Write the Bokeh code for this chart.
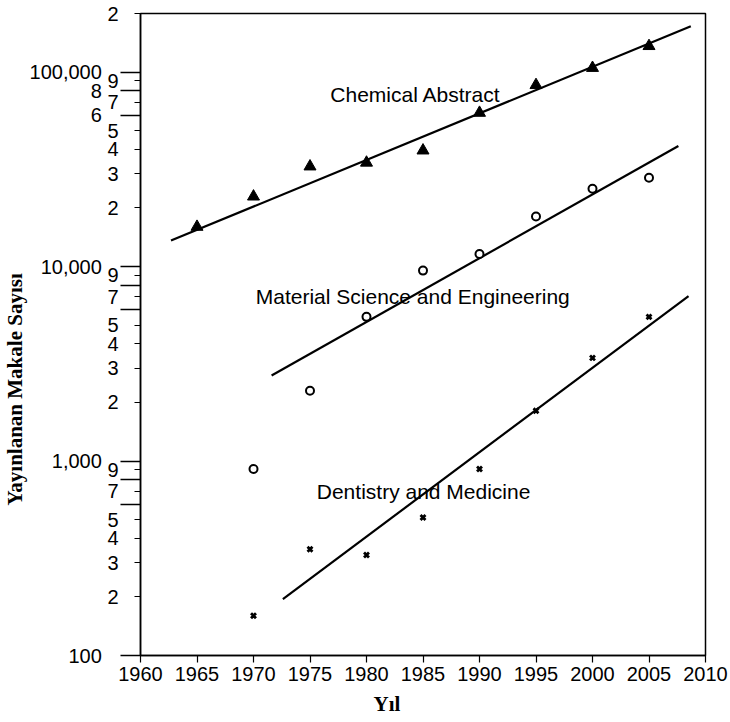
from bokeh.plotting import figure
from bokeh.models import Range1d, FixedTicker, Title
from bokeh.core.properties import value
from bokeh.embed import file_html
from bokeh.resources import INLINE

# ---- data ----
chem_years = [1965, 1970, 1975, 1980, 1985, 1990, 1995, 2000, 2005]
chem_values = [16000, 22900, 32700, 34200, 39500, 61700, 85700, 105000, 136000]

mat_years = [1970, 1975, 1980, 1985, 1990, 1995, 2000, 2005]
mat_values = [910, 2300, 5510, 9530, 11600, 18100, 25100, 28600]

dent_years = [1970, 1975, 1980, 1985, 1990, 1995, 2000, 2005]
dent_values = [160, 352, 329, 512, 910, 1814, 3390, 5510]

# regression (trend) lines, end points
chem_fit_years = [1962.7, 2008.7]
chem_fit_values = [13600, 172000]
mat_fit_years = [1971.6, 2007.6]
mat_fit_values = [2750, 41700]
dent_fit_years = [1972.6, 2008.5]
dent_fit_values = [195, 7050]

series_names = ["Chemical Abstract", "Material Science and Engineering", "Dentistry and Medicine"]

x_ticks = [1960, 1965, 1970, 1975, 1980, 1985, 1990, 1995, 2000, 2005, 2010]

PAD = "\u00a0\u00a0\u00a0"
y_label_ticks = [100, 200, 300, 400, 500, 700, 900,
                 1000, 2000, 3000, 4000, 5000, 7000, 9000,
                 10000, 20000, 30000, 40000, 50000, 60000, 70000, 80000, 90000,
                 100000, 200000]
y_label_text = ["100" + PAD, "2", "3", "4", "5", "7", "9",
                "1,000" + PAD, "2", "3", "4", "5", "7", "9",
                "10,000" + PAD, "2", "3", "4", "5", "6" + PAD, "7", "8" + PAD, "9",
                "100,000" + PAD, "2"]
y_long_ticks = [100, 600, 800, 1000, 6000, 8000, 10000, 60000, 80000, 100000]

x_label = "Yıl"
y_label = "Yayınlanan Makale Sayısı"

# ---- figure ----
p = figure(width=730, height=722, y_axis_type="log",
           x_range=Range1d(1960, 2010), y_range=Range1d(100, 200000),
           output_backend="svg", toolbar_location=None,
           min_border_left=139, min_border_right=25,
           min_border_top=13, min_border_bottom=65)

p.background_fill_color = "white"
p.border_fill_color = "white"
p.outline_line_color = "black"
p.outline_line_width = 1.5
p.xgrid.visible = False
p.ygrid.visible = False

tick_font = "Liberation Sans"

# x axis
p.xaxis.ticker = FixedTicker(ticks=x_ticks, minor_ticks=[])
p.xaxis.major_label_text_font = tick_font
p.xaxis.major_label_text_font_size = "20px"
p.xaxis.major_label_text_color = "black"
p.xaxis.major_tick_out = 7
p.xaxis.major_tick_in = 0
p.xaxis.major_tick_line_width = 1.2
p.xaxis.axis_line_width = 1.5
p.xaxis.major_label_standoff = 4

# y axis
p.yaxis.ticker = FixedTicker(ticks=y_label_ticks, minor_ticks=y_long_ticks)
p.yaxis.major_label_overrides = {t: s for t, s in zip(y_label_ticks, y_label_text)}
p.yaxis.major_label_text_font = tick_font
p.yaxis.major_label_text_font_size = "20px"
p.yaxis.major_label_text_color = "black"
p.yaxis.major_tick_out = 6
p.yaxis.major_tick_in = 0
p.yaxis.minor_tick_out = 20
p.yaxis.minor_tick_in = 0
p.yaxis.major_tick_line_width = 1.2
p.yaxis.minor_tick_line_width = 1.5
p.yaxis.minor_tick_line_color = "black"
p.yaxis.axis_line_width = 1.5
p.yaxis.major_label_standoff = 2

# axis titles as side titles, so they can sit off-centre like the reference
p.add_layout(Title(text=y_label, align="left", offset=150,
                   text_font="Liberation Serif", text_font_style="bold",
                   text_font_size="21px", text_color="black",
                   standoff=0), "left")
p.add_layout(Title(text=x_label, align="left", offset=233,
                   text_font="Liberation Serif", text_font_style="bold",
                   text_font_size="21px", text_color="black",
                   standoff=13), "below")

# trend lines
p.line(chem_fit_years, chem_fit_values, line_color="black", line_width=2.2)
p.line(mat_fit_years, mat_fit_values, line_color="black", line_width=2.2)
p.line(dent_fit_years, dent_fit_values, line_color="black", line_width=2.2)

# markers
p.scatter(chem_years, chem_values, marker="triangle", size=12,
          fill_color="black", line_color="black")
p.scatter(mat_years, mat_values, marker="circle", size=8,
          fill_color="white", line_color="black", line_width=2)
p.scatter(dent_years, dent_values, marker="x", size=7,
          line_color="black", line_width=2.8)

# series labels
label_years = [1976.8, 1970.2, 1975.6]
label_values = [76800, 7000, 700]
p.text(x=label_years, y=label_values, text=series_names,
       text_font=value(tick_font), text_font_size="21px",
       text_color="black", text_align="left", text_baseline="middle")

open("out.html", "w").write(file_html(p, INLINE))
